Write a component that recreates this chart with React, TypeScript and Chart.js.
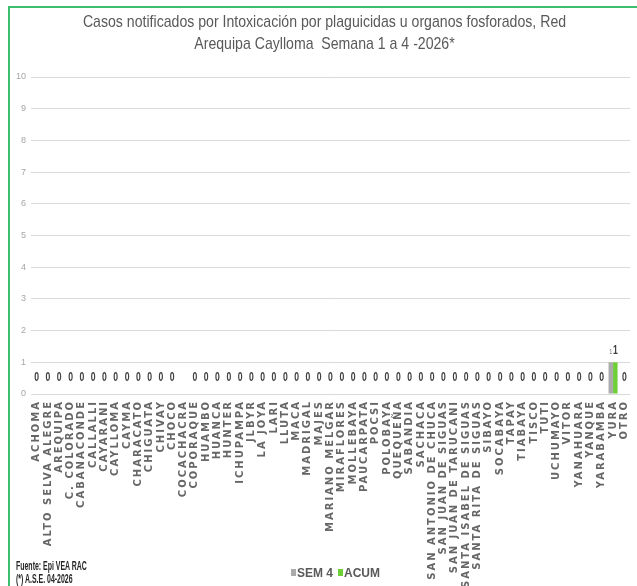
import React, { useEffect, useRef } from "react";
import { Chart, registerables } from "chart.js";

Chart.register(...registerables);

const titleLines = [
  "Casos notificados por Intoxicación por plaguicidas u organos fosforados, Red",
  "Arequipa Caylloma  Semana 1 a 4 -2026*",
];

const categories = [
  "ACHOMA", "ALTO SELVA ALEGRE", "AREQUIPA", "C. COLORADO", "CABANACONDE", "CALLALLI",
  "CAYARANI", "CAYLLOMA", "CAYMA", "CHARACATO", "CHIGUATA", "CHIVAY", "CHOCO",
  "COCACHACRA", "COPORAQUE", "HUAMBO", "HUANCA", "HUNTER", "ICHUPAMPA", "JLBYR",
  "LA JOYA", "LARI", "LLUTA", "MACA", "MADRIGAL", "MAJES", "MARIANO MELGAR",
  "MIRAFLORES", "MOLLEBAYA", "PAUCARPATA", "POCSI", "POLOBAYA", "QUEQUEÑA", "SABANDIA",
  "SACHACA", "SAN ANTONIO DE CHUCA", "SAN JUAN DE SIGUAS", "SAN JUAN DE TARUCANI",
  "SANTA ISABEL DE SIGUAS", "SANTA RITA DE SIGUAS", "SIBAYO", "SOCABAYA", "TAPAY",
  "TIABAYA", "TISCO", "TUTI", "UCHUMAYO", "VITOR", "YANAHUARA", "YANQUE", "YARABAMBA",
  "YURA", "OTRO",
];

const sem4: (number | null)[] = [
  0, 0, 0, 0, 0, 0, 0, 0, 0, 0, 0, 0, 0,
  null, 0, 0, 0, 0, 0, 0, 0, 0, 0, 0, 0, 0, 0,
  0, 0, 0, 0, 0, 0, 0, 0, 0, 0, 0,
  0, 0, 0, 0, 0, 0, 0, 0, 0, 0, 0, 0, 0,
  1, 0,
];

const acum: (number | null)[] = [
  0, 0, 0, 0, 0, 0, 0, 0, 0, 0, 0, 0, 0,
  null, 0, 0, 0, 0, 0, 0, 0, 0, 0, 0, 0, 0, 0,
  0, 0, 0, 0, 0, 0, 0, 0, 0, 0, 0,
  0, 0, 0, 0, 0, 0, 0, 0, 0, 0, 0, 0, 0,
  1, 0,
];

const seriesNames = ["SEM 4", "ACUM"];
const yMin = 0;
const yMax = 10;
const yStep = 1;

const footerLines = ["Fuente: Epi VEA RAC", "(*) A.S.E. 04-2026"];

const SANS = "'Liberation Sans', Arial, sans-serif";
const GRAY = "#ABABAB";
const GREEN = "#6FCF36";

const titlePlugin = {
  id: "scaledTitle",
  afterDraw(chart: any) {
    const ctx = chart.ctx;
    ctx.save();
    ctx.font = `17px ${SANS}`;
    ctx.fillStyle = "#595959";
    ctx.textAlign = "center";
    ctx.textBaseline = "middle";
    titleLines.forEach((t, i) => {
      ctx.save();
      ctx.translate(chart.width / 2 + 6, 22 + i * 22);
      ctx.scale(0.83, 1);
      ctx.fillText(t, 0, 0);
      ctx.restore();
    });
    ctx.restore();
  },
};

const spacedXLabels = {
  id: "spacedXLabels",
  beforeLayout(chart: any) {
    const sx = chart.scales && chart.scales.x;
    if (!sx || sx._spaced) return;
    const orig = Object.getPrototypeOf(sx).draw;
    sx.draw = function (area: any) {
      const c = this.ctx;
      const prev = c.letterSpacing;
      c.letterSpacing = "2px";
      orig.call(this, area);
      c.letterSpacing = prev || "0px";
    };
    sx._spaced = true;
  },
};

const drawNarrow = (ctx: any, text: string, x: number, y: number, sx: number) => {
  ctx.save();
  ctx.translate(x, y);
  ctx.scale(sx, 1);
  ctx.fillText(text, 0, 0);
  ctx.restore();
};

const valueLabels = {
  id: "valueLabels",
  afterDatasetsDraw(chart: any) {
    const ctx = chart.ctx;
    const m0 = chart.getDatasetMeta(0);
    const m1 = chart.getDatasetMeta(1);
    ctx.save();
    ctx.textAlign = "center";
    ctx.textBaseline = "middle";
    categories.forEach((_, i) => {
      const v0 = sem4[i];
      const v1 = acum[i];
      if (v0 == null && v1 == null) return;
      const e0 = m0.data[i];
      const e1 = m1.data[i];
      if (!v0 && !v1) {
        const x = (e0.x + e1.x) / 2;
        ctx.font = `bold 12px ${SANS}`;
        ctx.fillStyle = "#404040";
        drawNarrow(ctx, String(v1 ?? v0), x, e1.y - 16, 0.72);
        return;
      }
      ctx.font = `8px ${SANS}`;
      ctx.fillStyle = "#7f7f7f";
      drawNarrow(ctx, String(v0), e0.x, e0.y - 11, 0.8);
      ctx.font = `bold 12px ${SANS}`;
      ctx.fillStyle = "#404040";
      drawNarrow(ctx, String(v1), e1.x, e1.y - 12, 0.72);
    });
    ctx.restore();
  },
};

export default function App() {
  const ref = useRef<HTMLCanvasElement | null>(null);

  useEffect(() => {
    if (!ref.current) return;
    const chart = new Chart(ref.current, {
      type: "bar",
      data: {
        labels: categories,
        datasets: [
          { label: seriesNames[0], data: sem4, backgroundColor: GRAY, categoryPercentage: 0.8, barPercentage: 1.0 },
          { label: seriesNames[1], data: acum, backgroundColor: GREEN, categoryPercentage: 0.8, barPercentage: 1.0 },
        ],
      },
      options: {
        animation: false,
        responsive: false,
        layout: { padding: { left: 0, right: 7, top: 77, bottom: 0 } },
        plugins: {
          legend: { display: false },
          tooltip: { enabled: false },
          title: { display: false },
        },
        scales: {
          x: {
            grid: { display: false, drawTicks: false },
            border: { display: false },
            ticks: {
              autoSkip: false,
              minRotation: 90,
              maxRotation: 90,
              padding: 6,
              color: "#666666",
              font: { family: "'DejaVu Sans', sans-serif", size: 10, weight: "bold" },
            },
            afterFit: (s: any) => {
              s.height = 192;
              s.paddingLeft = 0;
              s.paddingRight = 0;
            },
          },
          y: {
            min: yMin,
            max: yMax,
            ticks: {
              stepSize: yStep,
              padding: 5,
              color: "#a6a6a6",
              font: { family: SANS, size: 9 },
            },
            grid: { color: "#d9d9d9", drawTicks: false },
            border: { display: false },
            afterFit: (s: any) => {
              s.width = 31;
            },
          },
        },
      },
      plugins: [spacedXLabels, valueLabels, titlePlugin],
    });
    return () => chart.destroy();
  }, []);

  const legendItem = (color: string, text: string) => (
    <span style={{ display: "inline-flex", alignItems: "center", marginRight: 5 }}>
      <span style={{ display: "inline-block", width: 5, height: 7, background: color, marginRight: 1 }} />
      <span>{text}</span>
    </span>
  );

  return (
    <div style={{ position: "absolute", left: 0, top: 0, width: 637, height: 586, overflow: "hidden", background: "#fff" }}>
      <canvas ref={ref} width={637} height={586} style={{ position: "absolute", left: 0, top: 0, width: 637, height: 586 }} />
      <div style={{ position: "absolute", left: 8, top: 6, width: 629, height: 2, background: "#3DBE6E" }} />
      <div style={{ position: "absolute", left: 8, top: 6, width: 2, height: 580, background: "#3DBE6E" }} />
      <div
        style={{
          position: "absolute",
          left: 291,
          top: 564,
          fontFamily: SANS,
          fontWeight: "bold",
          fontSize: 12,
          color: "#595959",
          whiteSpace: "nowrap",
          lineHeight: "16px",
        }}
      >
        {legendItem(GRAY, seriesNames[0])}
        {legendItem(GREEN, seriesNames[1])}
      </div>
      <div
        style={{
          position: "absolute",
          left: 16,
          top: 560,
          fontFamily: SANS,
          fontWeight: "bold",
          fontSize: 12,
          color: "#262626",
          lineHeight: "13px",
          whiteSpace: "nowrap",
          transform: "scaleX(0.58)",
          transformOrigin: "0 0",
        }}
      >
        {footerLines.map((t) => (
          <div key={t}>{t}</div>
        ))}
      </div>
    </div>
  );
}
